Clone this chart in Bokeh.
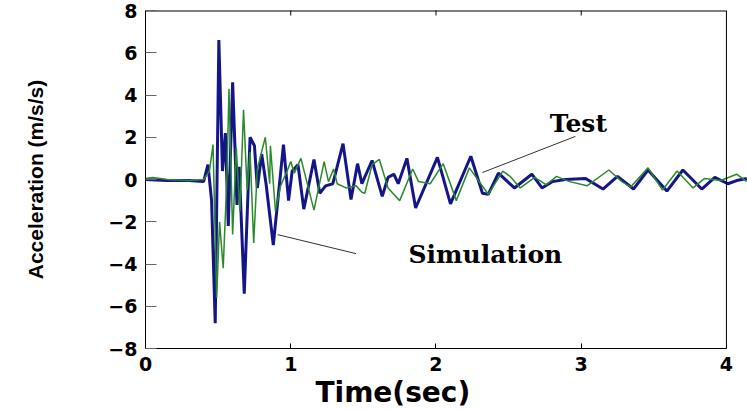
from bokeh.plotting import figure
from bokeh.models import Range1d, FixedTicker, Span, Title
from bokeh.core.properties import value
from bokeh.embed import file_html
from bokeh.resources import INLINE

# Simulation (thick navy)
sim_t = [0.00, 0.15, 0.30, 0.40, 0.43, 0.455, 0.48, 0.505, 0.53, 0.55, 0.57, 0.60,
         0.63, 0.645, 0.68, 0.72, 0.75, 0.77, 0.80, 0.83, 0.88, 0.95, 0.985, 1.01,
         1.05, 1.09, 1.16, 1.20, 1.24, 1.29, 1.36, 1.415, 1.46, 1.49, 1.56, 1.63,
         1.67, 1.71, 1.74, 1.80, 1.86, 2.01, 2.10, 2.24, 2.32, 2.36, 2.43, 2.54,
         2.66, 2.73, 2.80, 2.89, 3.03, 3.15, 3.25, 3.36, 3.46, 3.59, 3.70, 3.83,
         3.92, 4.01, 4.07, 4.14]
sim_a = [0.0, -0.05, -0.05, -0.1, 0.7, -1.0, -6.8, 6.6, 0.4, 2.2, -2.2, 4.6,
         -1.2, 0.6, -5.4, 2.0, 1.6, -0.4, 1.2, -0.2, -3.1, 1.65, -1.0, 0.4,
         0.7, -1.4, 0.95, -0.65, -0.3, -0.2, 1.7, -0.95, 0.75, -0.2, 0.9, -0.8,
         0.1, 0.25, -0.2, 1.0, -1.35, 1.05, -1.15, 1.1, -0.65, -0.7, 0.3, -0.4,
         0.25, -0.4, -0.1, 0.0, 0.05, -0.45, 0.15, -0.45, 0.45, -0.55, 0.45, -0.45,
         0.1, -0.2, -0.05, 0.05]

# Test (thin green)
test_t = [0.00, 0.05, 0.15, 0.30, 0.40, 0.44, 0.465, 0.49, 0.51, 0.535, 0.56, 0.575,
          0.60, 0.625, 0.65, 0.675, 0.70, 0.72, 0.745, 0.77, 0.825, 0.855, 0.86, 0.895,
          0.93, 0.975, 1.00, 1.025, 1.07, 1.16, 1.23, 1.26, 1.295, 1.32, 1.38, 1.45,
          1.49, 1.51, 1.56, 1.61, 1.67, 1.75, 1.84, 1.88, 1.96, 2.05, 2.14, 2.23,
          2.36, 2.46, 2.51, 2.58, 2.68, 2.76, 2.83, 2.92, 3.04, 3.19, 3.28, 3.34,
          3.46, 3.56, 3.66, 3.77, 3.85, 3.96, 4.07, 4.14]
test_a = [0.05, 0.1, 0.0, -0.05, 0.0, 0.4, 1.65, -5.6, -2.0, -4.2, 0.0, 4.3,
          -2.6, 1.5, -1.5, 3.3, -0.5, 1.3, -3.0, 0.5, 2.0, -0.2, 1.6, -1.5,
          -0.3, 0.4, 0.85, 0.3, 1.0, -1.45, 0.85, -0.1, 0.5, -0.2, -0.4, -0.3,
          -0.6, -0.65, 0.7, 0.95, -0.4, -1.0, 0.5, -0.1, -0.2, 0.75, -1.0, 0.55,
          -0.7, 0.4, 0.15, -0.4, 0.1, -0.25, 0.15, -0.1, -0.3, 0.45, -0.1, -0.35,
          0.55, -0.5, 0.4, -0.4, 0.05, -0.05, 0.25, -0.1]

x_ticks = [0, 1, 2, 3, 4]
y_ticks = [-8, -6, -4, -2, 0, 2, 4, 6, 8]
x_end = 4
x_view = 4.145
y_lim = (-8, 8)

# callouts: text, text position, leader line (from, to)
test_label = ("Test", 2.98, 2.65)
test_leader = (2.96, 2.04, 2.32, 0.33)
sim_label = ("Simulation", 2.34, -3.55)
sim_leader = (0.91, -2.61, 1.45, -3.51)

p = figure(width=747, height=410, output_backend="svg", toolbar_location=None,
           x_range=Range1d(0, x_view), y_range=Range1d(*y_lim),
           min_border_left=145, min_border_right=0, min_border_top=10,
           min_border_bottom=62)
p.outline_line_color = None
p.xgrid.visible = False
p.ygrid.visible = False
p.background_fill_color = "white"
p.border_fill_color = "white"

xa = p.xaxis[0]
xa.ticker = FixedTicker(ticks=x_ticks)
xa.bounds = (0, x_end)
xa.major_tick_in = 5
xa.major_tick_out = 0
xa.minor_tick_line_color = None
xa.axis_line_color = "black"
xa.major_tick_line_color = "black"
xa.major_label_text_font = "DejaVu Sans"
xa.major_label_text_font_style = "bold"
xa.major_label_text_font_size = "19px"
xa.major_label_text_color = "black"
xa.major_label_standoff = 8

ya = p.yaxis[0]
ya.ticker = FixedTicker(ticks=y_ticks)
ya.major_tick_in = 11
ya.major_tick_out = 0
ya.minor_tick_line_color = None
ya.axis_line_color = "black"
ya.major_tick_line_color = "#666666"
ya.major_label_text_font = "DejaVu Sans"
ya.major_label_text_font_style = "bold"
ya.major_label_text_font_size = "19px"
ya.major_label_text_color = "black"
ya.major_label_standoff = 8
ya.axis_label = "Acceleration (m/s/s)"
ya.axis_label_text_font = "Liberation Sans"
ya.axis_label_text_font_style = "bold"
ya.axis_label_text_font_size = "21px"
ya.axis_label_text_color = "black"
ya.axis_label_standoff = 58

# frame: top edge and right edge at t = 4, with inward ticks on top
p.segment(x0=[0], y0=[y_lim[1]], x1=[x_end], y1=[y_lim[1]],
          line_color="black", line_width=2)
p.scatter(x_ticks[1:-1], [y_lim[1]] * (len(x_ticks) - 2), marker="dash",
          angle=1.5708, size=10, line_color="black", line_width=1)
p.add_layout(Span(location=x_end, dimension="height", line_color="black", line_width=1))

p.line(sim_t, sim_a, line_color="#15158a", line_width=3)
p.line(test_t, test_a, line_color="#2a8a2a", line_width=1.5)

p.segment(x0=[test_leader[0], sim_leader[0]], y0=[test_leader[1], sim_leader[1]],
          x1=[test_leader[2], sim_leader[2]], y1=[test_leader[3], sim_leader[3]],
          line_color="#333333", line_width=1)
p.text(x=[test_label[1], sim_label[1]], y=[test_label[2], sim_label[2]],
       text=[test_label[0], sim_label[0]], text_font=value("DejaVu Serif"),
       text_font_style="bold", text_font_size="25px", text_align="center",
       text_baseline="middle", text_color="black")

p.add_layout(Title(text="Time(sec)", align="left", offset=170, standoff=0,
                   text_font="DejaVu Sans", text_font_style="bold",
                   text_font_size="28px", text_color="black"), "below")

open("out.html", "w").write(file_html(p, INLINE))
